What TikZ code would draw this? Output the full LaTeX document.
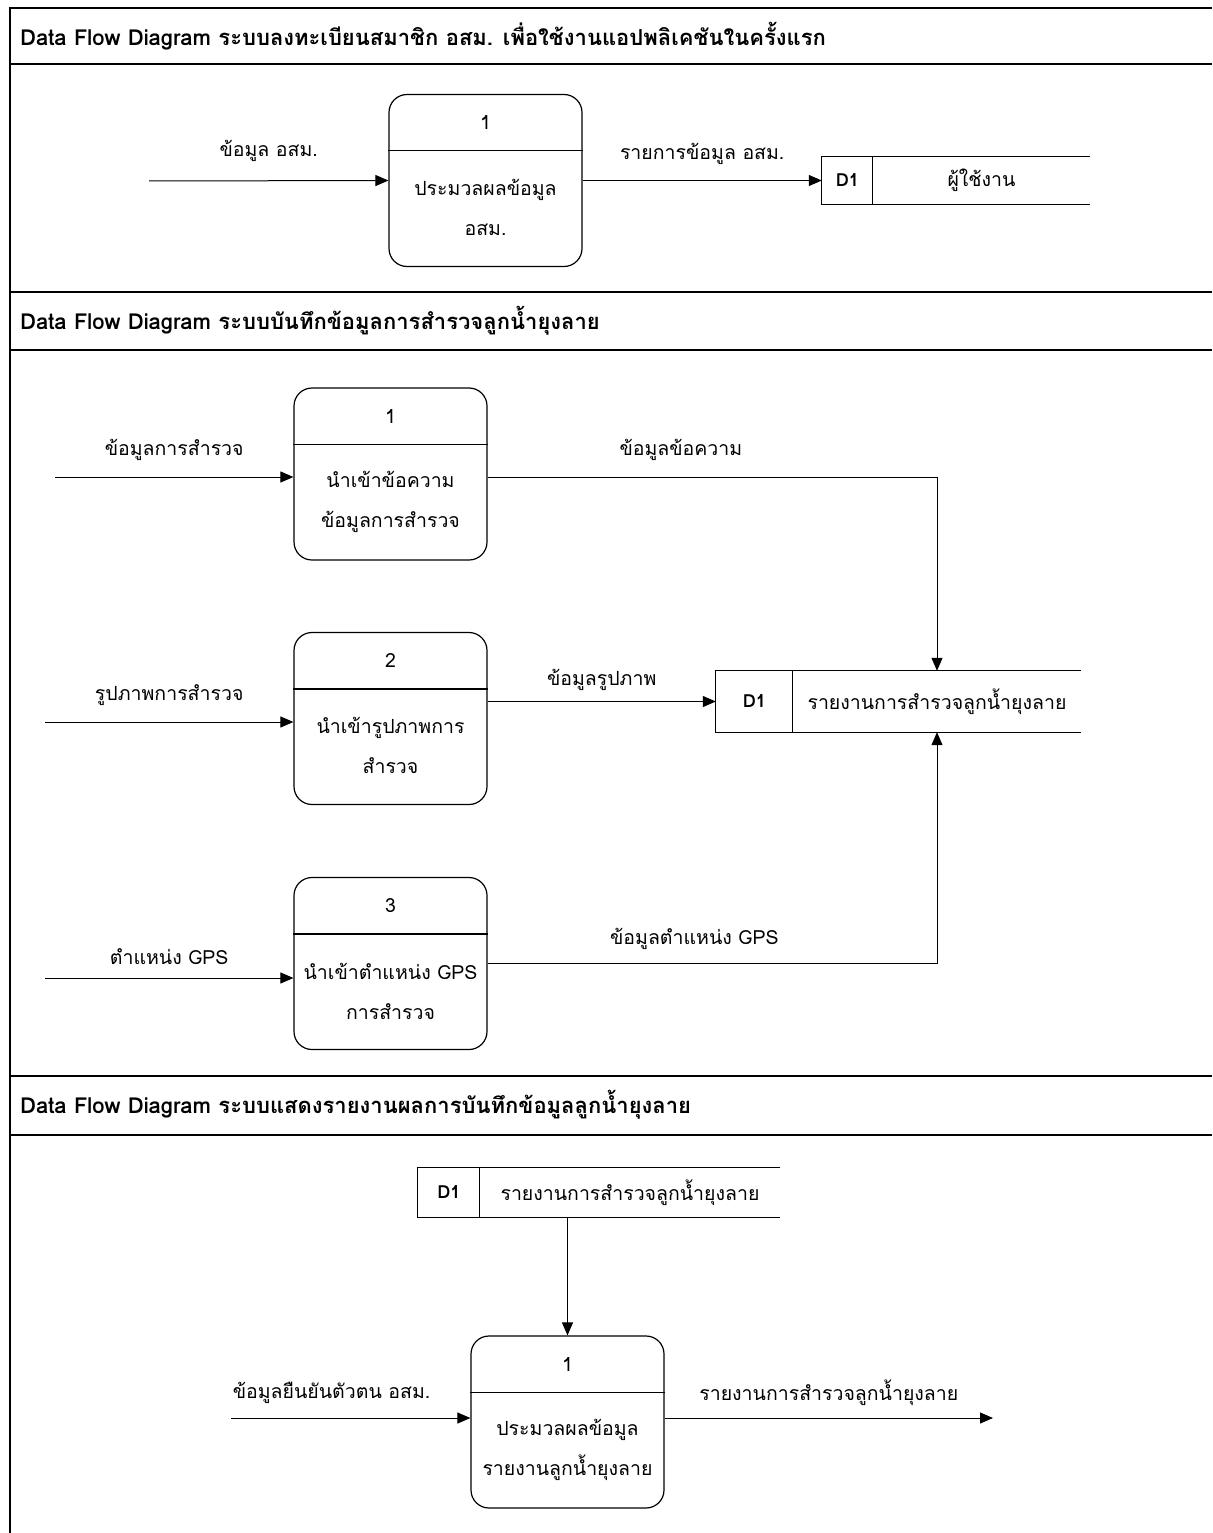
\documentclass[tikz,border=0pt]{standalone}
\usepackage{fontspec}
\setmainfont[Script=Thai]{Loma}
\usetikzlibrary{arrows.meta,positioning,calc}

% process box: divider, number and text
\newcommand{\dfdproc}[4]{%
  \node[proc] (#1) at (#2) {};
  \draw[line width=1.2pt] ([yshift=-57pt]#1.north west) -- ([yshift=-57pt]#1.north east);
  \node[txt] (#1num) at ([yshift=-29pt]#1.north) {#3};
  \node[txt] (#1lbl) at ([yshift=-114pt]#1.north) {#4};
}
% data store: open on the right
\newcommand{\dfdstore}[3]{%
  \draw[line width=1pt] (#1.north east) -- (#1.north west) -- (#1.south west) -- (#1.south east);
  \draw[line width=1pt] ([xshift=#2]#1.north west) -- ([xshift=#2]#1.south west);
  \node[txt,font=\fontsize{18}{20}\selectfont\bfseries] (#1id) at ([xshift=#2/2]#1.west) {D1};
  \node[txt] (#1name) at ($([xshift=#2]#1.west)!0.5!(#1.east)$) {#3};
}

\begin{document}
\begin{tikzpicture}[x=1pt,y=-1pt,
  proc/.style={rectangle,rounded corners=18pt,draw,line width=1.2pt,minimum width=193pt,minimum height=172pt,inner sep=0pt},
  store/.style={rectangle,inner sep=0pt},
  txt/.style={font=\fontsize{19.5}{40}\selectfont,align=center,inner sep=0pt},
  title/.style={font=\fontsize{22}{28}\selectfont\bfseries,anchor=west,inner sep=0pt},
  flow/.style={-{Triangle[length=13pt,width=11pt]},line width=1pt},
  frame/.style={line width=2pt}
]
\useasboundingbox (0,0) rectangle (1212,1533);

% frame and title bands
\draw[frame] (10,1533) -- (10,8) -- (1212,8);
\foreach \yy in {64,292,350,1076,1135}
  \draw[frame] (10,\yy) -- (1212,\yy);
\node[title] (t1) at (20,36) {Data Flow Diagram ระบบลงทะเบียนสมาชิก อสม. เพื่อใช้งานแอปพลิเคชันในครั้งแรก};
\node[title] (t2) at (20,321) {Data Flow Diagram ระบบบันทึกข้อมูลการสำรวจลูกน้ำยุงลาย};
\node[title] (t3) at (20,1105) {Data Flow Diagram ระบบแสดงรายงานผลการบันทึกข้อมูลลูกน้ำยุงลาย};

% section 1
\dfdproc{a1}{485.5,180.5}{1}{ประมวลผลข้อมูล\\อสม.}
\node[store,minimum width=268pt,minimum height=47pt] (s1) at (956,180.5) {};
\dfdstore{s1}{51pt}{ผู้ใช้งาน}
\coordinate (a1src) at (149,181);
\draw[flow] (a1src) -- node[txt,yshift=30pt] (a1in) {ข้อมูล อสม.} (a1.west);
\draw[flow] (a1.east) -- node[txt,yshift=27pt] (a1out) {รายการข้อมูล อสม.} (s1.west);

% section 2
\dfdproc{q1}{390.5,474}{1}{นำเข้าข้อความ\\ข้อมูลการสำรวจ}
\dfdproc{q2}{390.5,718.5}{2}{นำเข้ารูปภาพการ\\สำรวจ}
\dfdproc{q3}{390.5,963.5}{3}{นำเข้าตำแหน่ง GPS\\การสำรวจ}
\node[store,minimum width=365pt,minimum height=61pt] (s2) at (898.5,701.5) {};
\dfdstore{s2}{77pt}{รายงานการสำรวจลูกน้ำยุงลาย}
\coordinate (q1src) at (55,477);
\coordinate (q2src) at (45,722);
\coordinate (q3src) at (45,978);
\draw[flow] (q1src) -- node[txt,yshift=27pt] (q1in) {ข้อมูลการสำรวจ} (q1src -| q1.west);
\draw[flow] (q2src) -- node[txt,yshift=27pt] (q2in) {รูปภาพการสำรวจ} (q2src -| q2.west);
\draw[flow] (q3src) -- node[txt,yshift=21pt] (q3in) {ตำแหน่ง GPS} (q3src -| q3.west);
\draw[flow] (q1src -| q1.east) -| node[txt,pos=0.215,yshift=27pt] (q1out) {ข้อมูลข้อความ} ([xshift=38.5pt]s2.north);
\draw[flow] (q2.east |- s2.west) -- node[txt,yshift=22pt] (q2out) {ข้อมูลรูปภาพ} (s2.west);
\draw[flow] (q3.east) -| node[txt,pos=0.23,yshift=25pt] (q3out) {ข้อมูลตำแหน่ง GPS} ([xshift=38.5pt]s2.south);

% section 3
\node[store,minimum width=362pt,minimum height=49pt] (s3) at (599,1192.5) {};
\dfdstore{s3}{62pt}{รายงานการสำรวจลูกน้ำยุงลาย}
\dfdproc{r1}{567.5,1422}{1}{ประมวลผลข้อมูล\\รายงานลูกน้ำยุงลาย}
\coordinate (r1src) at (231,1418);
\coordinate (r1dst) at (993,1418);
\draw[flow] (s3.south -| r1.north) -- (r1.north);
\draw[flow] (r1src) -- node[txt,pos=0.42,yshift=25pt] (r1in) {ข้อมูลยืนยันตัวตน อสม.} (r1src -| r1.west);
\draw[flow] (r1src -| r1.east) -- node[txt,yshift=25pt] (r1out) {รายงานการสำรวจลูกน้ำยุงลาย} (r1dst);
\end{tikzpicture}
\end{document}
